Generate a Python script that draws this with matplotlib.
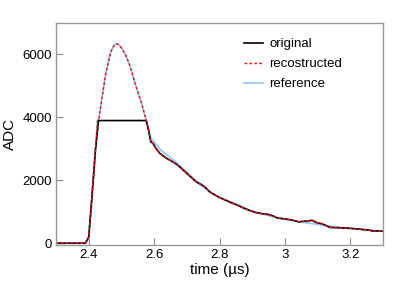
import numpy as np
import matplotlib.pyplot as plt

plt.rcParams['font.family'] = ['Liberation Sans', 'DejaVu Sans']

# original (clipped) waveform
t_orig = [2.30, 2.39, 2.40, 2.41, 2.42, 2.43, 2.576, 2.583, 2.590, 2.596, 2.605, 2.618,
          2.635, 2.658, 2.670, 2.684, 2.705, 2.729, 2.742, 2.755, 2.770, 2.785, 2.80, 2.818,
          2.835, 2.852, 2.870, 2.890, 2.911, 2.930, 2.952, 2.965, 2.977, 3.002, 3.020,
          3.042, 3.060, 3.073, 3.083, 3.098, 3.113, 3.138, 3.155, 3.174, 3.190, 3.209,
          3.239, 3.255, 3.27, 3.29, 3.30]
adc_orig = [0, 0, 200, 1500, 2900, 3900, 3900, 3590, 3220, 3185, 3020, 2850,
            2720, 2580, 2500, 2370, 2170, 1950, 1880, 1790, 1630, 1540, 1450, 1370,
            1290, 1220, 1135, 1050, 975, 940, 910, 860, 800, 770, 740,
            680, 700, 710, 730, 650, 620, 500, 495, 486, 480, 465,
            435, 420, 385, 390, 380]

# recovered peak above the clipping level
t_peak = [2.427, 2.431, 2.441, 2.452, 2.467, 2.477, 2.485, 2.493, 2.502, 2.512,
          2.522, 2.532, 2.542, 2.552, 2.562, 2.576]
adc_peak = [3900, 3958, 4645, 5388, 6074, 6280, 6345, 6300, 6181, 6000,
            5756, 5430, 5070, 4750, 4435, 3900]

# reference tail (smoother)
t_ref = [2.30, 2.39, 2.40, 2.41, 2.42, 2.59, 2.62, 2.66, 2.70, 2.74, 2.78, 2.80,
         2.85, 2.90, 2.95, 3.00, 3.05, 3.10, 3.15, 3.20, 3.25, 3.30]
adc_ref = [0, 0, 150, 1400, 2850, 3350, 2960, 2640, 2260, 1860, 1570, 1450,
           1250, 1010, 880, 760, 670, 600, 530, 470, 420, 380]

t_orig = np.array(t_orig); adc_orig = np.array(adc_orig)
t_peak = np.array(t_peak); adc_peak = np.array(adc_peak)
t_ref = np.array(t_ref); adc_ref = np.array(adc_ref)

pre = t_orig < 2.427
post = t_orig > 2.576
t_rec = np.concatenate([t_orig[pre], t_peak, t_orig[post]])
adc_rec = np.concatenate([adc_orig[pre], adc_peak, adc_orig[post]])

rpre = t_ref < 2.427
rpost = t_ref > 2.576
t_ref2 = np.concatenate([t_ref[rpre], t_peak, t_ref[rpost]])
adc_ref2 = np.concatenate([adc_ref[rpre], adc_peak, adc_ref[rpost]])

fig = plt.figure(figsize=(3.99, 2.88), dpi=100)
ax = fig.add_axes([0.1404, 0.149, 0.8196, 0.771])

l3, = ax.plot(t_ref2, adc_ref2, color='#99c8f5', lw=1.3, label='reference')
l1, = ax.plot(t_orig, adc_orig, color='black', lw=1.2, label='original')
l2, = ax.plot(t_rec, adc_rec, color='#ee1111', lw=1.0, ls=(0, (2, 1.5)), label='recostructed')

ax.set_xlim(2.3, 3.3)
ax.set_ylim(-60, 7000)
ax.set_xticks([2.4, 2.6, 2.8, 3.0, 3.2])
ax.set_xticklabels(['2.4', '2.6', '2.8', '3', '3.2'])
ax.set_yticks([0, 2000, 4000, 6000])
ax.tick_params(direction='in', length=5, color='#888888', labelsize=9.5, pad=3,
               top=False, right=False)
for s in ax.spines.values():
    s.set_color('#999999')
    s.set_linewidth(1.0)

ax.set_xlabel('time (µs)', fontsize=11, labelpad=1)
ax.set_ylabel('ADC', fontsize=11, labelpad=4)

ax.legend(handles=[l1, l2, l3], loc='upper left', frameon=False, fontsize=9.5,
          handlelength=1.45, handletextpad=0.45, labelspacing=0.58,
          borderpad=0, borderaxespad=0, bbox_to_anchor=(0.575, 0.932))

fig.savefig('out.png', dpi=100)
